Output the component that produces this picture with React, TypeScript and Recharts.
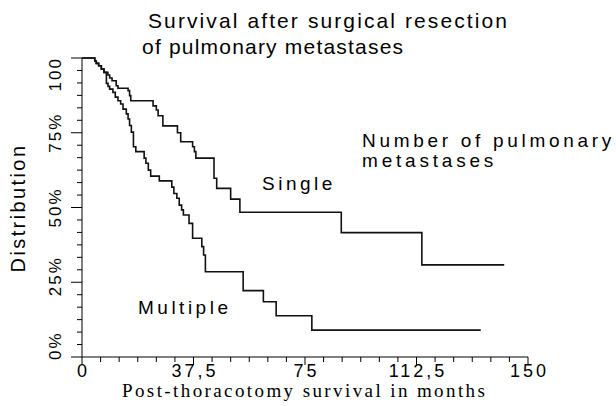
import { LineChart, Line, XAxis, YAxis } from "recharts";

// Kaplan-Meier steps (months, % surviving)
const singleMonths = [0, 4.3, 4.8, 5.6, 6.5, 7.4, 8.7, 9.3, 10.1, 11.5, 12.1, 15.5, 16.0, 16.4, 23.9, 25.0, 25.6, 27.2, 32.1, 33.2, 37.2, 37.8, 38.3, 44.4, 45.3, 50.0, 53.1, 87.2, 114.3, 142.0];
const singleSurvival = [100, 99.0, 98.2, 97.4, 96.3, 95.2, 94.3, 93.3, 92.4, 90.7, 89.9, 89.1, 87.4, 85.7, 84.0, 82.6, 80.7, 77.3, 75.0, 72.0, 70.3, 68.7, 66.5, 59.8, 56.4, 52.8, 48.4, 41.6, 30.8, 30.8];

const multipleMonths = [0, 4.3, 4.8, 5.6, 6.5, 7.4, 8.2, 8.75, 9.3, 10.4, 11.2, 12.1, 13.0, 13.8, 14.9, 15.5, 16.0, 16.6, 17.3, 18.1, 20.9, 21.5, 22.3, 23.1, 26.0, 30.2, 30.9, 31.9, 32.7, 33.5, 34.1, 36.0, 37.2, 40.3, 40.9, 41.5, 54.2, 61.0, 65.3, 77.3, 134.1];
const multipleSurvival = [100, 99.0, 98.2, 97.4, 96.3, 95.2, 91.5, 90.5, 89.6, 88.5, 86.9, 85.7, 84.6, 82.9, 81.3, 79.6, 77.4, 75.2, 70.3, 68.7, 66.5, 64.8, 62.5, 60.5, 58.9, 56.8, 54.7, 53.1, 50.8, 49.2, 47.5, 44.7, 39.7, 36.9, 34.1, 28.5, 22.2, 18.5, 13.8, 9.0, 9.0];

const xTickValues = [0, 37.5, 75, 112.5, 150];
const xTickLabels = ["0", "37,5", "75", "112,5", "150"];
const yTickValues = [0, 25, 50, 75, 100];
const yTickLabels = ["0%", "25%", "50%", "75%", "100"];

const singleData = singleMonths.map((m, i) => ({ month: m, pct: singleSurvival[i] }));
const multipleData = multipleMonths.map((m, i) => ({ month: m, pct: multipleSurvival[i] }));

// 6 minor divisions between labelled ticks
const withMinor = (major: number[]) => {
  const out: number[] = [];
  for (let i = 0; i < major.length - 1; i++) {
    for (let j = 0; j < 6; j++) out.push(major[i] + ((major[i + 1] - major[i]) * j) / 6);
  }
  out.push(major[major.length - 1]);
  return out;
};
const xTicks = withMinor(xTickValues);
const yTicks = withMinor(yTickValues);

const sans = "'Liberation Sans', Arial, sans-serif";
const serif = "'Liberation Serif', 'Times New Roman', serif";

const findMajor = (values: number[], v: number) => values.findIndex((t) => Math.abs(t - v) < 1e-6);

const XTick = (props: any) => {
  const { x, y, payload } = props;
  const idx = findMajor(xTickValues, payload.value);
  const major = idx >= 0;
  return (
    <g>
      <line x1={x} x2={x} y1={y} y2={y + (major ? 8 : 5)} stroke="#000" strokeWidth={1} />
      {major && (
        <text x={x + 1.5} y={y + 20} textAnchor="middle" fontFamily={sans} fontSize={18} fill="#000" style={{ letterSpacing: 3 }}>
          {xTickLabels[idx]}
        </text>
      )}
    </g>
  );
};

const YTick = (props: any) => {
  const { x, y, payload } = props;
  const idx = findMajor(yTickValues, payload.value);
  const major = idx >= 0;
  let anchor = "middle";
  let ty = y;
  if (idx === 0) {
    anchor = "start";
    ty = y + 3;
  } else if (idx === yTickValues.length - 1) {
    anchor = "end";
    ty = y - 1;
  } else if (idx === 1) {
    ty = y - 6;
  }
  return (
    <g>
      <line x1={x - (major ? 11 : 5)} x2={x} y1={y} y2={y} stroke="#000" strokeWidth={1} />
      {major && (
        <text transform={`translate(61, ${ty}) rotate(-90)`} textAnchor={anchor} fontFamily={sans} fontSize={17} fill="#000" style={{ letterSpacing: 2 }}>
          {yTickLabels[idx]}
        </text>
      )}
    </g>
  );
};

const App = () => {
  return (
    <div style={{ position: "absolute", left: 0, top: 0, width: 616, height: 406, background: "#fff" }}>
      <LineChart width={616} height={406} margin={{ top: 58, right: 88, left: 22, bottom: 9 }}>
        <XAxis
          dataKey="month"
          type="number"
          domain={[0, 150]}
          ticks={xTicks}
          interval={0}
          tickSize={0}
          tickMargin={0}
          tick={(p: any) => <XTick {...p} />}
          axisLine={{ stroke: "#000", strokeWidth: 1 }}
          height={40}
          allowDuplicatedCategory={false}
        />
        <YAxis
          type="number"
          domain={[0, 100]}
          ticks={yTicks}
          interval={0}
          tickSize={0}
          tickMargin={0}
          tick={(p: any) => <YTick {...p} />}
          axisLine={{ stroke: "#000", strokeWidth: 1 }}
          width={60}
        />
        <Line data={singleData} dataKey="pct" type="stepAfter" stroke="#111" strokeWidth={1.6} dot={false} isAnimationActive={false} />
        <Line data={multipleData} dataKey="pct" type="stepAfter" stroke="#111" strokeWidth={1.6} dot={false} isAnimationActive={false} />
      </LineChart>
      <svg width={616} height={406} style={{ position: "absolute", left: 0, top: 0, pointerEvents: "none" }}>
        <g fontFamily={sans} fill="#000">
          <text x={148} y={28} fontSize={21} style={{ letterSpacing: 2.1 }}>Survival after surgical resection</text>
          <text x={142} y={54} fontSize={21} style={{ letterSpacing: 1.2 }}>of pulmonary metastases</text>
          <text x={362} y={147} fontSize={19} style={{ letterSpacing: 3.7 }}>Number of pulmonary</text>
          <text x={362} y={167} fontSize={19} style={{ letterSpacing: 3.8 }}>metastases</text>
          <text x={262} y={190} fontSize={19} style={{ letterSpacing: 3.5 }}>Single</text>
          <text x={138} y={314} fontSize={19} style={{ letterSpacing: 3.5 }}>Multiple</text>
          <text transform="translate(25, 208) rotate(-90)" textAnchor="middle" fontSize={20} style={{ letterSpacing: 2.4 }}>Distribution</text>
        </g>
        <text x={122} y={397} fontFamily={serif} fontSize={19} fill="#000" style={{ letterSpacing: 2.4 }}>Post-thoracotomy survival in months</text>
      </svg>
    </div>
  );
};

export default App;
